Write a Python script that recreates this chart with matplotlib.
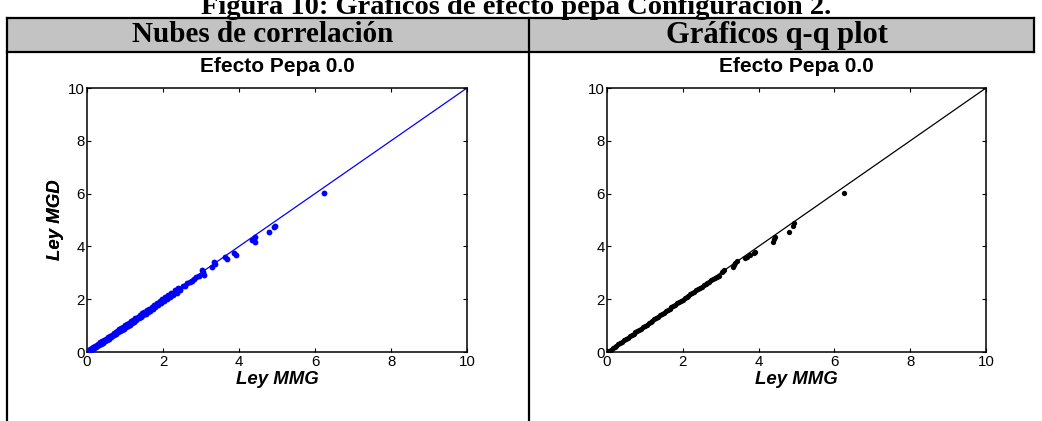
import matplotlib
matplotlib.use("Agg")
import matplotlib.pyplot as plt
from matplotlib.lines import Line2D
from matplotlib.patches import Rectangle

# ---------------- data ----------------
fig_title = "Figura 10: Gráficos de efecto pepa Configuración 2."
col_headers = ["Nubes de correlación", "Gráficos q-q plot"]
panel_title = "Efecto Pepa 0.0"
x_label = "Ley MMG"
y_label = "Ley MGD"
ticks = [0, 2, 4, 6, 8, 10]
ref_line = [0, 10]

# scatter (nubes de correlación)
mmg_scatter = [0.05, 0.07, 0.09, 0.11, 0.13, 0.15, 0.17, 0.19, 0.21, 0.23,
               0.25, 0.27, 0.30, 0.32, 0.35, 0.37, 0.40, 0.42, 0.45, 0.47,
               0.50, 0.52, 0.55, 0.57, 0.60, 0.62, 0.65, 0.67, 0.70, 0.72,
               0.75, 0.77, 0.80, 0.82, 0.85, 0.87, 0.90, 0.92, 0.95, 0.97,
               1.00, 1.02, 1.05, 1.07, 1.10, 1.12, 1.15, 1.18, 1.21, 1.24,
               1.27, 1.30, 1.33, 1.36, 1.39, 1.42, 1.45, 1.48, 1.51, 1.54,
               1.57, 1.60, 1.63, 1.66, 1.70, 1.73, 1.77, 1.80, 1.84, 1.87,
               1.91, 1.94, 1.98, 2.02, 2.06, 2.10, 2.14, 2.18, 2.22, 2.27,
               2.31, 2.36, 2.40, 2.45, 2.52, 2.58, 2.64, 2.70, 2.76, 2.82,
               2.88, 2.96, 3.03, 3.05, 3.07, 3.29, 3.33, 3.38, 3.64, 3.69,
               3.86, 3.93, 4.35, 4.41, 4.43, 4.78, 4.92, 4.96, 6.23]
mgd_scatter = [0.06, 0.03, 0.10, 0.07, 0.15, 0.11, 0.19, 0.14, 0.23, 0.18,
               0.27, 0.22, 0.31, 0.26, 0.36, 0.31, 0.41, 0.35, 0.46, 0.40,
               0.51, 0.45, 0.56, 0.50, 0.61, 0.55, 0.66, 0.60, 0.71, 0.65,
               0.76, 0.70, 0.81, 0.75, 0.86, 0.80, 0.91, 0.85, 0.96, 0.89,
               1.01, 0.94, 1.06, 0.99, 1.11, 1.04, 1.16, 1.09, 1.22, 1.15,
               1.28, 1.21, 1.34, 1.27, 1.40, 1.33, 1.46, 1.39, 1.52, 1.45,
               1.58, 1.51, 1.64, 1.57, 1.71, 1.64, 1.78, 1.71, 1.86, 1.78,
               1.93, 1.85, 2.00, 1.93, 2.09, 2.01, 2.16, 2.09, 2.24, 2.17,
               2.33, 2.25, 2.43, 2.36, 2.51, 2.49, 2.61, 2.65, 2.70, 2.78,
               2.83, 2.88, 3.11, 3.02, 2.92, 3.21, 3.42, 3.33, 3.59, 3.52,
               3.76, 3.67, 4.24, 4.34, 4.18, 4.53, 4.72, 4.77, 6.01]

# q-q plot
mmg_qq = [0.05, 0.10, 0.15, 0.20, 0.25, 0.30, 0.35, 0.40, 0.45, 0.50,
          0.55, 0.60, 0.65, 0.70, 0.75, 0.80, 0.85, 0.90, 0.95, 1.00,
          1.05, 1.10, 1.15, 1.20, 1.25, 1.30, 1.35, 1.40, 1.45, 1.50,
          1.55, 1.60, 1.65, 1.70, 1.75, 1.80, 1.85, 1.90, 1.95, 2.00,
          2.05, 2.10, 2.15, 2.20, 2.25, 2.30, 2.35, 2.40, 2.45, 2.50,
          2.55, 2.60, 2.65, 2.70, 2.75, 2.80, 2.85, 2.90, 2.96, 3.03,
          3.06, 3.10, 3.32, 3.35, 3.38, 3.42, 3.64, 3.70, 3.76, 3.88,
          3.91, 4.39, 4.41, 4.43, 4.81, 4.90, 4.94, 6.26]
mgd_qq = [0.04, 0.09, 0.14, 0.19, 0.24, 0.29, 0.34, 0.39, 0.44, 0.49,
          0.54, 0.59, 0.64, 0.69, 0.74, 0.79, 0.84, 0.89, 0.94, 0.99,
          1.04, 1.09, 1.14, 1.19, 1.24, 1.29, 1.34, 1.39, 1.44, 1.49,
          1.54, 1.59, 1.64, 1.69, 1.74, 1.79, 1.84, 1.89, 1.93, 1.98,
          2.03, 2.08, 2.13, 2.18, 2.23, 2.28, 2.33, 2.38, 2.43, 2.48,
          2.53, 2.58, 2.62, 2.67, 2.72, 2.76, 2.79, 2.83, 2.88, 3.04,
          3.08, 3.12, 3.21, 3.30, 3.38, 3.43, 3.55, 3.60, 3.68, 3.74,
          3.80, 4.18, 4.28, 4.37, 4.56, 4.77, 4.87, 6.01]

# ---------------- layout ----------------
W, H = 1042, 421
fig = plt.figure(figsize=(W / 100, H / 100), dpi=100)
fig.patch.set_facecolor("white")

def fx(px):
    return px / W

def fy(py):
    return 1 - py / H

# table header background
fig.patches.append(Rectangle((fx(7), fy(52)), fx(1034) - fx(7), fy(18) - fy(52),
                             transform=fig.transFigure, facecolor="#c3c3c3",
                             edgecolor="none", zorder=0))
lw = 1.6
for (x0, y0, x1, y1) in [(7, 18, 1034, 18), (7, 52, 1034, 52),
                         (7, 18, 7, 421), (529, 18, 529, 421),
                         (1034, 18, 1034, 52)]:
    fig.add_artist(Line2D([fx(x0), fx(x1)], [fy(y0), fy(y1)],
                          transform=fig.transFigure, color="black", lw=lw))

serif = ["Liberation Serif", "DejaVu Serif"]
sans = ["Liberation Sans", "DejaVu Sans"]

fig.text(fx(516), fy(14), fig_title, ha="center", va="baseline",
         fontsize=20.5, fontweight="bold", family=serif)
fig.text(fx(263), fy(35), col_headers[0], ha="center", va="center",
         fontsize=21, fontweight="bold", family=serif)
fig.text(fx(777), fy(35), col_headers[1], ha="center", va="center",
         fontsize=22, fontweight="bold", family=serif)

axes_px = [(87, 467), (607, 986)]
top, bottom = 88, 352
colors = ["#0000ff", "#000000"]
msizes = [4.2, 3.8]
data = [(mmg_scatter, mgd_scatter), (mmg_qq, mgd_qq)]

for (l, r), c, ms, (xs, ys) in zip(axes_px, colors, msizes, data):
    ax = fig.add_axes([fx(l), fy(bottom), fx(r) - fx(l), fy(top) - fy(bottom)])
    ax.plot(ref_line, ref_line, color=c, lw=0.9, zorder=2)
    ax.plot(xs, ys, "o", color=c, ms=ms, mec="none", zorder=3)
    ax.set_xlim(0, 10)
    ax.set_ylim(0, 10)
    ax.set_xticks(ticks)
    ax.set_yticks(ticks)
    ax.tick_params(direction="in", length=3, width=0.8, top=True, right=True,
                   labelsize=10.8, colors="black")
    ax.tick_params(axis="x", pad=2.5)
    ax.tick_params(axis="y", pad=1.5)
    for lab in ax.get_xticklabels() + ax.get_yticklabels():
        lab.set_family(sans)
    for sp in ax.spines.values():
        sp.set_linewidth(1.1)
    hpx = bottom - top
    wpx = r - l
    ax.text(0.5, 1 + (88 - 66) / hpx, panel_title, transform=ax.transAxes,
            ha="center", va="center", fontsize=15, fontweight="bold", family=sans)
    ax.text(0.5, -(380 - 352) / hpx, x_label, transform=ax.transAxes,
            ha="center", va="center", fontsize=13.4, fontweight="bold",
            style="italic", family=sans)
    ax.text((55 - l) / wpx, 0.5, y_label, transform=ax.transAxes,
            ha="center", va="center", rotation=90, fontsize=13.4,
            fontweight="bold", style="italic", family=sans)

fig.savefig("out.png", dpi=100)
